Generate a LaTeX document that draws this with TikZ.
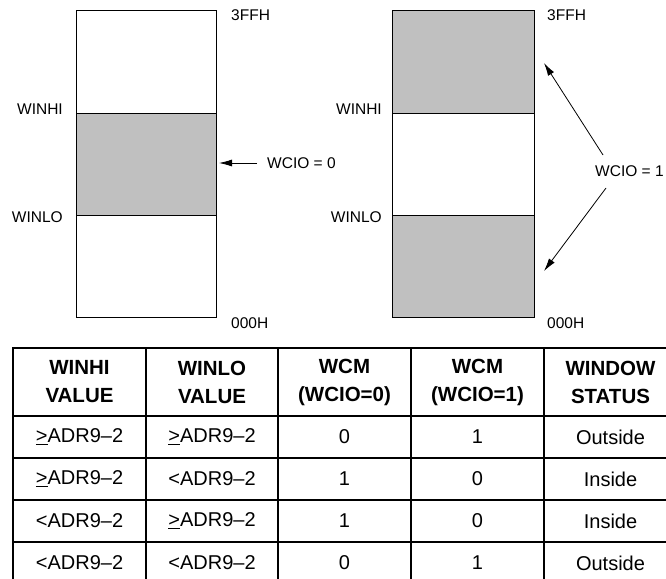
\documentclass[tikz,border=0pt]{standalone}
\usepackage{fontspec}
\setmainfont{Liberation Sans}
\usetikzlibrary{arrows.meta}
\definecolor{memgray}{RGB}{192,192,192}
\begin{document}
\begin{tikzpicture}[x=1pt,y=-1pt,
  lbl/.style={inner sep=0pt,font=\fontsize{15.5}{18}\selectfont},
  cell/.style={inner sep=0pt,align=center,font=\fontsize{20}{28}\selectfont},
  hcell/.style={inner sep=0pt,align=center,font=\fontsize{20.5}{28}\selectfont\bfseries},
  mem/.style={draw=black,line width=0.9pt},
  tablegrid/.style={draw=black,line width=1.6pt},
  arr/.style={-{Latex[length=13pt,width=7pt]},line width=0.8pt}]
\useasboundingbox (0,0) rectangle (666,578);
% left memory map
\fill[memgray] (76,113) rectangle (216,215);
\draw[mem] (76,10) rectangle (216,317);
\draw[mem] (76,113) -- (216,113);
\draw[mem] (76,215) -- (216,215);
% right memory map
\fill[memgray] (392,10) rectangle (534,113);
\fill[memgray] (392,215) rectangle (534,317);
\draw[mem] (392,10) rectangle (534,317);
\draw[mem] (392,113) -- (534,113);
\draw[mem] (392,215) -- (534,215);
% labels
\node[lbl,anchor=west] (l3ff) at (231,15) {3FFH};
\node[lbl,anchor=west] (l000) at (231,323) {000H};
\node[lbl,anchor=east] (lhi) at (63,109) {WINHI};
\node[lbl,anchor=east] (llo) at (63,217) {WINLO};
\node[lbl,anchor=west] (r3ff) at (547,15) {3FFH};
\node[lbl,anchor=west] (r000) at (547,323) {000H};
\node[lbl,anchor=east] (rhi) at (382,109) {WINHI};
\node[lbl,anchor=east] (rlo) at (382,217) {WINLO};
\node[lbl,anchor=west] (w0) at (267,163) {WCIO = 0};
\node[lbl,anchor=west] (w1) at (595,171) {WCIO = 1};
\coordinate (t0) at (219,163);
\coordinate (s0) at (257,163);
\coordinate (tu) at (544,63);
\coordinate (su) at (603,155);
\coordinate (td) at (544,271);
\coordinate (sd) at (606,188);
\draw[arr] (s0) -- (t0);
\draw[arr] (su) -- (tu);
\draw[arr] (sd) -- (td);
% table grid
\draw[tablegrid] (13,600) -- (13,348) -- (680,348);
\foreach \x in {146,278,411,544} \draw[tablegrid] (\x,348) -- (\x,600);
\foreach \y in {416,458,500,542} \draw[tablegrid] (13,\y) -- (680,\y);
% header
\node[hcell] (h1) at (79.5,382) {WINHI\\VALUE};
\node[hcell] (h2) at (212,382) {WINLO\\VALUE};
\node[hcell] (h3) at (344.5,382) {WCM\\(WCIO=0)};
\node[hcell] (h4) at (477.5,382) {WCM\\(WCIO=1)};
\node[hcell] (h5) at (610.5,382) {WINDOW\\STATUS};
% rows
\node[cell] (a1) at (79.5,437) {\underline{>}ADR9\textendash2};
\node[cell] (b1) at (212,437) {\underline{>}ADR9\textendash2};
\node[cell] (c1) at (344.5,437) {0};
\node[cell] (d1) at (477.5,437) {1};
\node[cell] (e1) at (610.5,437) {Outside};
\node[cell] (a2) at (79.5,479) {\underline{>}ADR9\textendash2};
\node[cell] (b2) at (212,479) {<ADR9\textendash2};
\node[cell] (c2) at (344.5,479) {1};
\node[cell] (d2) at (477.5,479) {0};
\node[cell] (e2) at (610.5,479) {Inside};
\node[cell] (a3) at (79.5,521) {<ADR9\textendash2};
\node[cell] (b3) at (212,521) {\underline{>}ADR9\textendash2};
\node[cell] (c3) at (344.5,521) {1};
\node[cell] (d3) at (477.5,521) {0};
\node[cell] (e3) at (610.5,521) {Inside};
\node[cell] (a4) at (79.5,563) {<ADR9\textendash2};
\node[cell] (b4) at (212,563) {<ADR9\textendash2};
\node[cell] (c4) at (344.5,563) {0};
\node[cell] (d4) at (477.5,563) {1};
\node[cell] (e4) at (610.5,563) {Outside};
\end{tikzpicture}
\end{document}
